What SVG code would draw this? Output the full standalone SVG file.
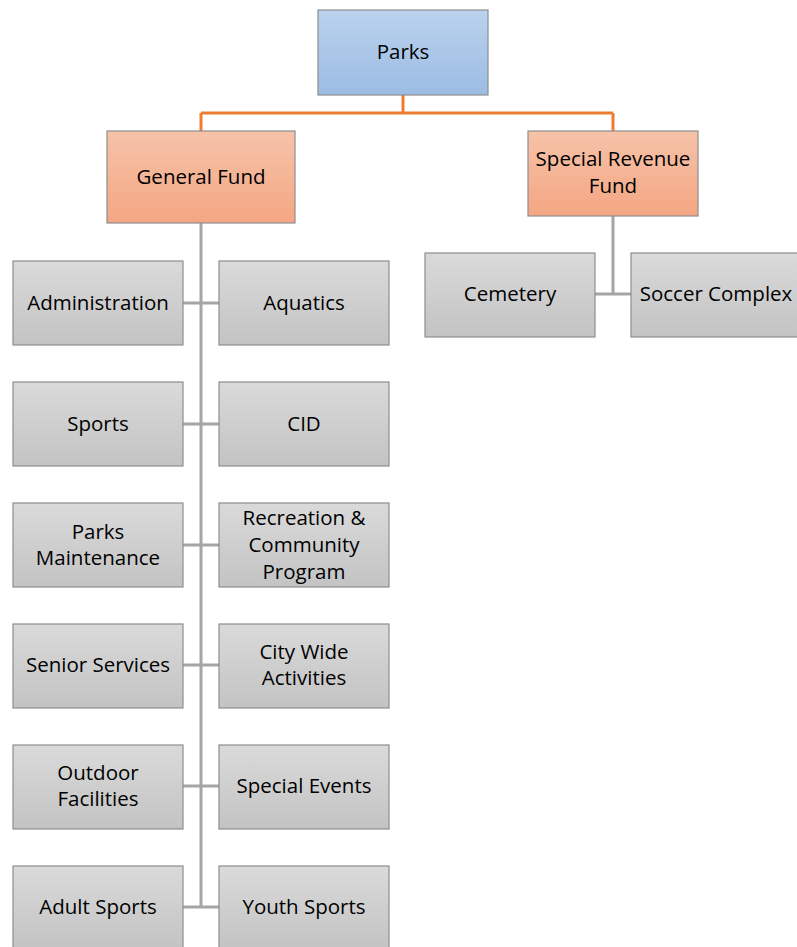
<svg xmlns="http://www.w3.org/2000/svg" width="797" height="947" viewBox="0 0 797 947">
<style>
.t{font-family:"Open Sans","Liberation Sans",sans-serif;font-size:20.5px;fill:#000;text-anchor:middle}
.g{fill:url(#gg);stroke:#8e8e8e;stroke-width:1.2}
.o{fill:url(#og);stroke:#8e8e8e;stroke-width:1.2}
.b{fill:url(#bg);stroke:#8e8e8e;stroke-width:1.2}
.lo{stroke:#ed7d31;stroke-width:3;fill:none}
.lg{stroke:#a5a5a5;stroke-width:3;fill:none}
</style>
<defs>
<linearGradient id="gg" x1="0" y1="0" x2="0" y2="1"><stop offset="0" stop-color="#dadada"/><stop offset="1" stop-color="#c3c3c3"/></linearGradient>
<linearGradient id="og" x1="0" y1="0" x2="0" y2="1"><stop offset="0" stop-color="#f6c3a9"/><stop offset="1" stop-color="#f4a683"/></linearGradient>
<linearGradient id="bg" x1="0" y1="0" x2="0" y2="1"><stop offset="0" stop-color="#bad2ee"/><stop offset="1" stop-color="#9cbce3"/></linearGradient>
</defs>
<g id="connectors">
<path class="lo" d="M403 95V113M201 113H613M201 113V131M613 113V131"/>
<path class="lg" d="M201 223V907M183 303H219M183 424H219M183 545H219M183 665H219M183 786H219M183 907H219"/>
<path class="lg" d="M613 216V294M595 294H631"/>
</g>
<g id="parks"><rect class="b" x="318" y="10" width="170" height="85"/><text class="t" x="403" y="59">Parks</text></g>
<g id="general-fund"><rect class="o" x="107" y="131" width="188" height="92"/><text class="t" x="201" y="184">General Fund</text></g>
<g id="special-revenue-fund"><rect class="o" x="528" y="131" width="170" height="85"/><text class="t" x="613" y="166">Special Revenue</text><text class="t" x="613" y="193">Fund</text></g>
<g id="cemetery"><rect class="g" x="425" y="253" width="170" height="84"/><text class="t" x="510" y="301">Cemetery</text></g>
<g id="soccer-complex"><rect class="g" x="631" y="253" width="172" height="84"/><text class="t" x="716" y="301">Soccer Complex</text></g>
<g id="administration"><rect class="g" x="13" y="261" width="170" height="84"/><text class="t" x="98" y="310">Administration</text></g>
<g id="aquatics"><rect class="g" x="219" y="261" width="170" height="84"/><text class="t" x="304" y="310">Aquatics</text></g>
<g id="sports"><rect class="g" x="13" y="382" width="170" height="84"/><text class="t" x="98" y="431">Sports</text></g>
<g id="cid"><rect class="g" x="219" y="382" width="170" height="84"/><text class="t" x="304" y="431">CID</text></g>
<g id="parks-maintenance"><rect class="g" x="13" y="503" width="170" height="84"/><text class="t" x="98" y="539">Parks</text><text class="t" x="98" y="565">Maintenance</text></g>
<g id="recreation"><rect class="g" x="219" y="503" width="170" height="84"/><text class="t" x="304" y="525">Recreation &amp;</text><text class="t" x="304" y="552">Community</text><text class="t" x="304" y="579">Program</text></g>
<g id="senior-services"><rect class="g" x="13" y="624" width="170" height="84"/><text class="t" x="98" y="672">Senior Services</text></g>
<g id="city-wide"><rect class="g" x="219" y="624" width="170" height="84"/><text class="t" x="304" y="659">City Wide</text><text class="t" x="304" y="685">Activities</text></g>
<g id="outdoor-facilities"><rect class="g" x="13" y="745" width="170" height="84"/><text class="t" x="98" y="780">Outdoor</text><text class="t" x="98" y="806">Facilities</text></g>
<g id="special-events"><rect class="g" x="219" y="745" width="170" height="84"/><text class="t" x="304" y="793">Special Events</text></g>
<g id="adult-sports"><rect class="g" x="13" y="866" width="170" height="84"/><text class="t" x="98" y="914">Adult Sports</text></g>
<g id="youth-sports"><rect class="g" x="219" y="866" width="170" height="84"/><text class="t" x="304" y="914">Youth Sports</text></g>
</svg>
